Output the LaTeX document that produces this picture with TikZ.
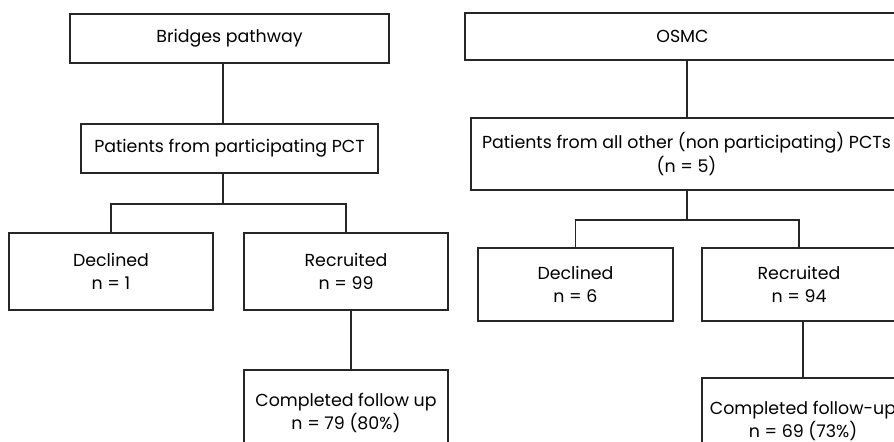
\documentclass[tikz,border=0pt]{standalone}
\usepackage{fontspec}
\setmainfont{Poppins}
\begin{document}
\begin{tikzpicture}[x=0.5pt,y=-0.5pt,
    box/.style={draw=black!85, line width=0.9pt, align=center, inner sep=0pt,
      font=\fontsize{8.7}{11.6}\selectfont},
    link/.style={draw=black!85, line width=0.9pt}]
  \useasboundingbox (0,0) rectangle (894,442);
  \clip (0,0) rectangle (894,442);

  % Bridges side
  \node (bridges) [box, minimum width=159.5pt, minimum height=24.5pt] at (229.5,38.5) {Bridges pathway};
  \node (pctL)    [box, minimum width=148.8pt, minimum height=24.5pt] at (229.5,148.5) {Patients from participating PCT};
  \node (declL)   [box, minimum width=102pt,   minimum height=38.5pt] at (111,271.5) {Declined\\n = 1};
  \node (recL)    [box, minimum width=101.7pt, minimum height=38.5pt] at (346,271.5) {Recruited\\n = 99};
  \node (compL)   [box, minimum width=101.7pt, minimum height=43pt]   at (346,413) {Completed follow up\\n = 79 (80\%)};

  % OSMC side
  \node (osmc)    [box, minimum width=217.5pt, minimum height=23.5pt] at (682.5,36.5) {OSMC};
  \node (pctR)    [box, minimum width=215.5pt, minimum height=36pt]   at (686.5,154) {Patients from all other (non participating) PCTs\\(n = 5)};
  \node (declR)   [box, minimum width=97.5pt,  minimum height=36.5pt] at (575.5,284.5) {Declined\\n = 6};
  \node (recR)    [box, minimum width=97pt,    minimum height=36.5pt] at (799,284.5) {Recruited\\n = 94};
  \node (compR)   [box, minimum width=101pt,   minimum height=43pt]   at (803,421) {Completed follow-up\\n = 69 (73\%)};

  \coordinate (jL) at (222.7,204);
  \coordinate (jR) at (686.7,220);
  \coordinate (dropL) at (351,0);

  \draw [link] (bridges.south -| jL) -- (pctL.north -| jL);
  \draw [link] (pctL.south -| jL) -- (jL);
  \draw [link] (declL.north) |- (jL) -| (recL.north);
  \draw [link] (recL.south -| dropL) -- (compL.north -| dropL);

  \draw [link] (osmc.south -| jR) -- (pctR.north -| jR);
  \draw [link] (pctR.south -| jR) -- (jR);
  \draw [link] (declR.north) |- (jR) -| (recR.north);
  \draw [link] (recR.south -| compR.north) -- (compR.north);
\end{tikzpicture}
\end{document}
